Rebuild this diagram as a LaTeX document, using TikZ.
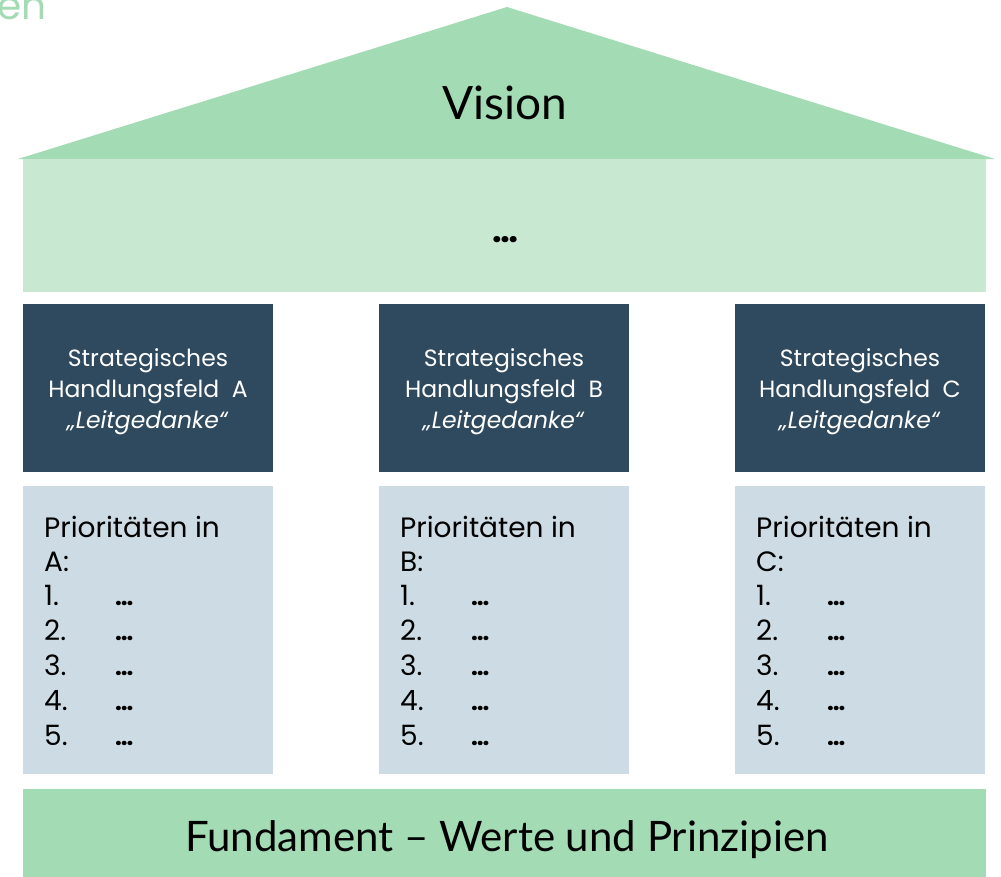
\documentclass[tikz,border=0pt]{standalone}
\usepackage{fontspec}
\usetikzlibrary{calc}
\setmainfont{Lato}
\newfontfamily\roundfont{Poppins}
\definecolor{roofgreen}{HTML}{A3DBB4}
\definecolor{wallgreen}{HTML}{C9E8D1}
\definecolor{pillar}{HTML}{2F4A5E}
\definecolor{listbg}{HTML}{CDDCE4}
\newcommand{\smalldots}{{\fontsize{24}{24}\selectfont\bfseries…}}
\newcommand{\prioitem}[1]{\makebox[71pt][l]{#1}\smalldots}
\begin{document}
\begin{tikzpicture}[x=1pt,y=-1pt,
  box/.style={inner sep=0pt, outer sep=0pt, anchor=north west},
  headbox/.style={box, fill=pillar, minimum width=250pt, minimum height=168pt},
  headline/.style={anchor=base, inner sep=0pt, text=white,
    font=\roundfont\fontsize{23.5}{23.5}\selectfont},
  listbox/.style={box, fill=listbg, minimum width=250pt, minimum height=288pt},
  listline/.style={anchor=base west, inner sep=0pt,
    font=\roundfont\fontsize{28}{28}\selectfont}]
\useasboundingbox (0,0) rectangle (1001,876);
\clip (0,0) rectangle (1001,876);

% cut-off heading fragment in the corner
\node[anchor=base west, inner sep=0pt, text=roofgreen,
  font=\roundfont\fontsize{39}{39}\selectfont] (corner) at (-3,19) {en};

% roof and upper wall
\fill[roofgreen] (18,159) -- (507,7) -- (995,159) -- cycle;
\node[anchor=base, inner sep=0pt, font=\fontsize{46}{46}\selectfont] (vision) at (505,119) {Vision};
\node[box, fill=wallgreen, minimum width=963pt, minimum height=133pt] (wall) at (23,159) {};
\node[anchor=base, inner sep=0pt, font=\roundfont\fontsize{34}{34}\selectfont\bfseries] (walltext) at (505,242) {…};

% three pillars with their priority lists
\foreach \x/\l in {23/A, 379/B, 735/C}{
  \node[headbox] (head-\l) at (\x,304) {};
  \node[headline] (head-\l-1) at ($(head-\l.north)+(0,62)$) {Strategisches};
  \node[headline] (head-\l-2) at ($(head-\l.north)+(0,93)$) {Handlungsfeld\ \ \l};
  \node[headline] (head-\l-3) at ($(head-\l.north)+(0,124)$) {\textit{„Leitgedanke“}};
  \node[listbox] (list-\l) at (\x,486) {};
  \node[listline] (prio-\l-0) at ($(list-\l.north west)+(21,51)$) {Prioritäten in};
  \node[listline] (prio-\l-l) at ($(list-\l.north west)+(21,85)$) {\l:};
  \foreach \n in {1,...,5}{
    \node[listline] (prio-\l-\n) at ($(list-\l.north west)+(21,85+34.8*\n)$) {\prioitem{\n.}};
  }
}

% foundation
\node[box, fill=roofgreen, minimum width=963pt, minimum height=90pt] (base) at (23,789) {};
\node[anchor=base, inner sep=0pt, font=\fontsize{42}{42}\selectfont] (basetext) at (507,851)
  {Fundament – Werte und Prinzipien};
\end{tikzpicture}
\end{document}
